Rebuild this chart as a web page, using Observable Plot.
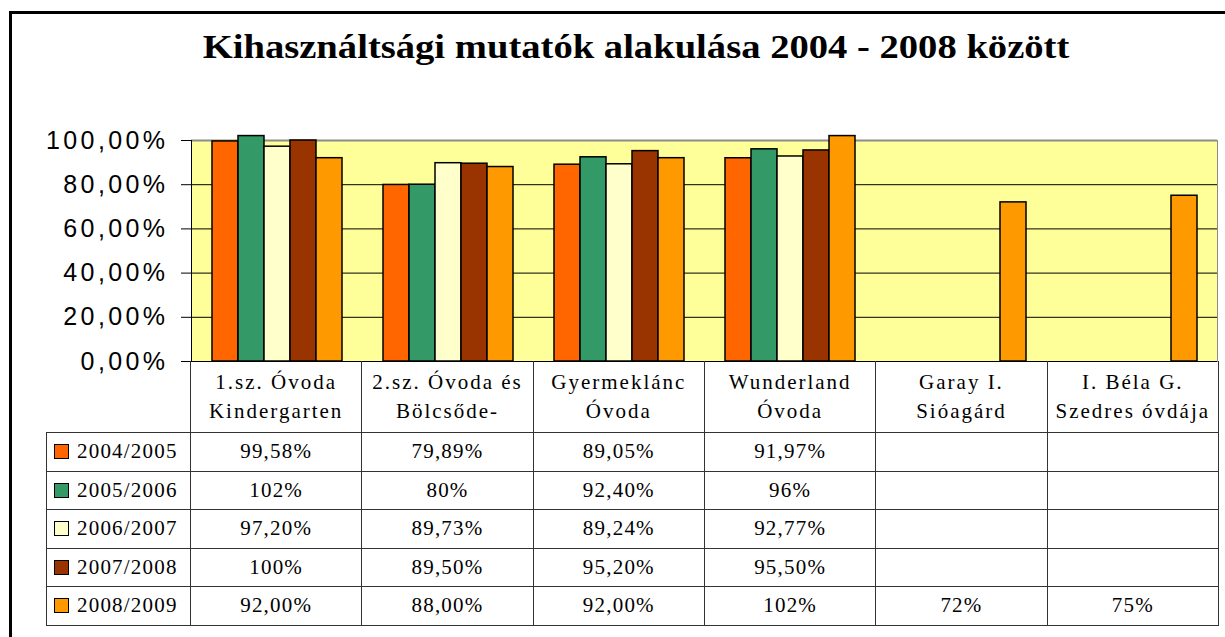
<!DOCTYPE html>
<html>
<head>
<meta charset="utf-8">
<script src="https://cdn.jsdelivr.net/npm/d3@7"></script>
<script src="https://cdn.jsdelivr.net/npm/@observablehq/plot@0.6"></script>
<style>
  html, body { margin: 0; padding: 0; background: #fff; width: 1225px; height: 637px; overflow: hidden; }
  #frame { position: absolute; left: 9px; top: 11px; width: 1400px; height: 800px; border: 3px solid #000; box-sizing: border-box; }
  #title { position: absolute; left: 636px; top: 31px; white-space: nowrap; font-family: "Liberation Serif", serif; font-weight: bold; font-size: 33px; line-height: 33px; color: #000; transform: translateX(-50%) scaleX(1.17); }
  #chart { position: absolute; left: 0; top: 125px; }
  #tbl { position: absolute; left: 46px; top: 361px; border-collapse: collapse; table-layout: fixed; font-family: "Liberation Serif", serif; color: #000; }
  #tbl td { border: 1px solid #333; padding: 0; text-align: center; font-size: 21px; letter-spacing: 1.2px; height: 38.5px; box-sizing: border-box; white-space: nowrap; }
  #tbl tr.head td { height: 71.5px; white-space: pre-line; letter-spacing: 2px; line-height: 29px; border-top: none; }
  #tbl tr.head td.corner { border: none; border-bottom: 1px solid #333; }
  #tbl td.leg { text-align: left; padding-left: 7px; }
  .key { display: inline-block; width: 13px; height: 13px; border: 1.5px solid #000; vertical-align: -1px; margin-right: 8px; }
</style>
</head>
<body>
<div id="frame"></div>
<div id="title">Kihasználtsági mutatók alakulása 2004 - 2008 között</div>
<div id="chart"></div>
<table id="tbl"></table>
<script>
const titleText = "Kihasználtsági mutatók alakulása 2004 - 2008 között";
const categories = ["1.sz. Óvoda\nKindergarten", "2.sz. Óvoda és\nBölcsőde-", "Gyermeklánc\nÓvoda", "Wunderland\nÓvoda", "Garay I.\nSióagárd", "I. Béla G.\nSzedres óvdája"];
const years = ["2004/2005", "2005/2006", "2006/2007", "2007/2008", "2008/2009"];
const colors = ["#FF6600", "#339966", "#FFFFCC", "#993300", "#FF9900"];
const v0405 = [99.58, 79.89, 89.05, 91.97, null, null];
const v0506 = [102, 80, 92.40, 96, null, null];
const v0607 = [97.20, 89.73, 89.24, 92.77, null, null];
const v0708 = [100, 89.50, 95.20, 95.50, null, null];
const v0809 = [92, 88, 92, 102, 72, 75];
const t0405 = ["99,58%", "79,89%", "89,05%", "91,97%", "", ""];
const t0506 = ["102%", "80%", "92,40%", "96%", "", ""];
const t0607 = ["97,20%", "89,73%", "89,24%", "92,77%", "", ""];
const t0708 = ["100%", "89,50%", "95,20%", "95,50%", "", ""];
const t0809 = ["92,00%", "88,00%", "92,00%", "102%", "72%", "75%"];
const yTicks = [0, 20, 40, 60, 80, 100];
const gridValues = [20, 40, 60, 80];

const series = [v0405, v0506, v0607, v0708, v0809];
const seriesText = [t0405, t0506, t0607, t0708, t0809];

const rows = [];
series.forEach((vals, j) => vals.forEach((v, i) => {
  if (v != null) rows.push({cat: categories[i], year: years[j], value: v});
}));

const chart = Plot.plot({
  width: 1225,
  height: 238,
  marginTop: 15,
  marginBottom: 2,
  marginLeft: 190,
  marginRight: 7,
  style: {fontFamily: "'Liberation Sans', Arial, sans-serif", fontSize: "25px", color: "#000", background: "transparent", overflow: "visible"},
  fx: {domain: categories, paddingInner: 0, paddingOuter: 0, axis: null, label: null},
  x: {domain: years, paddingInner: 0, paddingOuter: 0.72, axis: null, label: null},
  y: {domain: [0, 100], ticks: yTicks, tickSize: 10, tickPadding: 13, label: null,
      tickFormat: d => d.toFixed(2).replace(".", ",") + "%"},
  color: {domain: years, range: colors},
  marks: [
    Plot.frame({facet: "super", fill: "#FFFF99", stroke: "#8c8c8c", strokeWidth: 1}),
    Plot.ruleY(gridValues, {stroke: "#000", strokeWidth: 1}),
    Plot.ruleY([100], {stroke: "#8c8c8c", strokeWidth: 2}),
    Plot.barY(rows, {fx: "cat", x: "year", y: "value", fill: "year", stroke: "#000", strokeWidth: 1.5, inset: 0}),
    Plot.ruleY([0], {stroke: "#000", strokeWidth: 1}),
    Plot.frame({facet: "super", anchor: "left", stroke: "#000", strokeWidth: 1})
  ]
});
chart.querySelectorAll("text").forEach(t => t.style.letterSpacing = "3.4px");
document.getElementById("chart").appendChild(chart);

// data table
const tbl = document.getElementById("tbl");
const colgroup = document.createElement("colgroup");
const c0 = document.createElement("col"); c0.style.width = "144px"; colgroup.appendChild(c0);
categories.forEach(() => { const c = document.createElement("col"); c.style.width = (1028 / categories.length) + "px"; colgroup.appendChild(c); });
tbl.appendChild(colgroup);
const head = document.createElement("tr"); head.className = "head";
const corner = document.createElement("td"); corner.className = "corner"; head.appendChild(corner);
categories.forEach(c => { const td = document.createElement("td"); td.textContent = c; head.appendChild(td); });
tbl.appendChild(head);
years.forEach((y, j) => {
  const tr = document.createElement("tr");
  const lg = document.createElement("td"); lg.className = "leg";
  const key = document.createElement("span"); key.className = "key"; key.style.background = colors[j];
  lg.appendChild(key); lg.appendChild(document.createTextNode(y));
  tr.appendChild(lg);
  seriesText[j].forEach(t => { const td = document.createElement("td"); td.textContent = t; tr.appendChild(td); });
  tbl.appendChild(tr);
});
</script>
</body>
</html>
